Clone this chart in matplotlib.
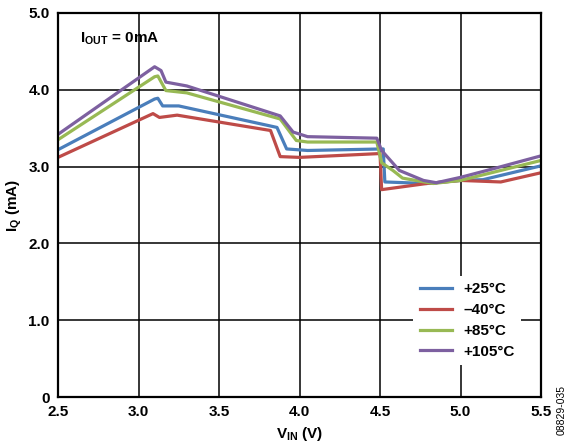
import matplotlib
matplotlib.use('Agg')
import matplotlib.pyplot as plt

plt.rcParams['font.family'] = ['Liberation Sans', 'DejaVu Sans']
plt.rcParams['font.weight'] = 'bold'
plt.rcParams['mathtext.fontset'] = 'custom'
plt.rcParams['mathtext.rm'] = 'Liberation Sans:bold'
plt.rcParams['mathtext.bf'] = 'Liberation Sans:bold'
plt.rcParams['mathtext.it'] = 'Liberation Sans:bold'

# +25°C
x_25 = [2.5, 3.10, 3.12, 3.15, 3.25, 3.86, 3.92, 4.05, 4.52, 4.53, 4.79, 5.0, 5.14, 5.5]
y_25 = [3.22, 3.88, 3.89, 3.79, 3.79, 3.51, 3.23, 3.21, 3.23, 2.80, 2.78, 2.82, 2.83, 3.01]
# -40°C
x_m40 = [2.5, 3.09, 3.13, 3.24, 3.82, 3.88, 4.0, 4.50, 4.51, 4.79, 5.0, 5.25, 5.5]
y_m40 = [3.12, 3.69, 3.64, 3.67, 3.47, 3.13, 3.12, 3.17, 2.70, 2.78, 2.82, 2.80, 2.92]
# +85°C
x_85 = [2.5, 3.10, 3.12, 3.17, 3.30, 3.88, 3.98, 4.05, 4.48, 4.51, 4.58, 4.64, 4.83, 5.0, 5.5]
y_85 = [3.35, 4.17, 4.18, 3.99, 3.96, 3.62, 3.34, 3.32, 3.32, 3.05, 2.95, 2.85, 2.78, 2.82, 3.08]
# +105°C
x_105 = [2.5, 3.10, 3.14, 3.17, 3.30, 3.88, 3.96, 4.05, 4.48, 4.51, 4.62, 4.77, 4.85, 5.0, 5.2, 5.5]
y_105 = [3.42, 4.30, 4.25, 4.10, 4.05, 3.66, 3.45, 3.39, 3.37, 3.21, 2.95, 2.82, 2.79, 2.86, 2.97, 3.14]

x_ticks = [2.5, 3.0, 3.5, 4.0, 4.5, 5.0, 5.5]
y_ticks = [0, 1.0, 2.0, 3.0, 4.0, 5.0]
y_ticklabels = ['0', '1.0', '2.0', '3.0', '4.0', '5.0']

fig = plt.figure(figsize=(5.71, 4.48), dpi=100)
ax = fig.add_axes([0.1016, 0.1138, 0.8459, 0.8572])

ax.plot(x_25, y_25, color='#4a7ebb', lw=2.3, label='+25°C')
ax.plot(x_m40, y_m40, color='#be4b48', lw=2.3, label='–40°C')
ax.plot(x_85, y_85, color='#98b954', lw=2.3, label='+85°C')
ax.plot(x_105, y_105, color='#7d60a0', lw=2.3, label='+105°C')

ax.set_xlim(2.5, 5.5)
ax.set_ylim(0, 5.0)
ax.set_xticks(x_ticks)
ax.set_xticklabels([f'{v:.1f}' for v in x_ticks])
ax.set_yticks(y_ticks)
ax.set_yticklabels(y_ticklabels)
ax.tick_params(length=0, labelsize=11, pad=6)
ax.grid(True, color='black', lw=1.1)
for s in ax.spines.values():
    s.set_linewidth(1.6)

ax.set_xlabel(r'V$_{\mathrm{IN}}$ (V)', fontsize=11, fontweight='bold', labelpad=4)
ax.set_ylabel(r'I$_{\mathrm{Q}}$ (mA)', fontsize=11, fontweight='bold', labelpad=3)

ax.text(0.045, 0.955, r'I$_{\mathrm{OUT}}$ = 0mA', transform=ax.transAxes,
        fontsize=11, fontweight='bold', va='top', ha='left')

leg = ax.legend(loc='upper left', bbox_to_anchor=(0.72, 0.335), fontsize=11,
                frameon=True, facecolor='white', edgecolor='none', framealpha=1,
                fancybox=False, handlelength=2.1, labelspacing=0.45, borderpad=0.4)

fig.text(0.983, 0.085, '08829-035', rotation=90, fontsize=7.5, fontweight='normal',
         ha='center', va='center')

fig.savefig('out.png', dpi=100)
